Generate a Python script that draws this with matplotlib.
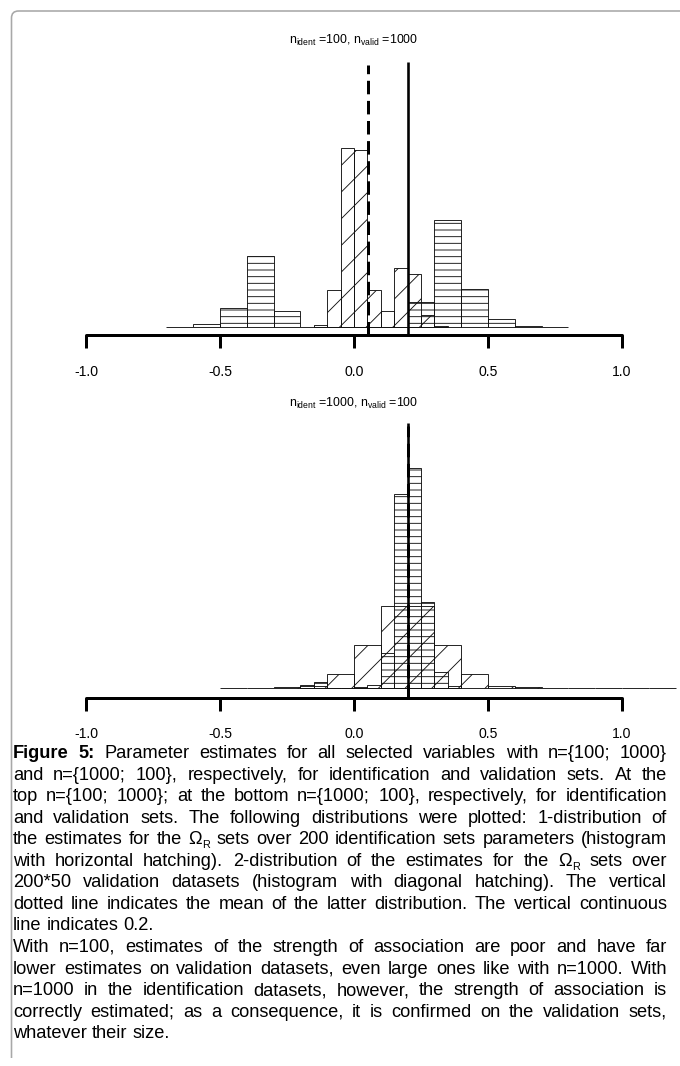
import matplotlib
matplotlib.use("Agg")
import matplotlib.pyplot as plt
import matplotlib.transforms as mtransforms
from matplotlib.patches import FancyBboxPatch, Rectangle
from matplotlib import font_manager

W, H, DPI = 680, 1066, 80

# ---------------- data ----------------
ticks = [-1.0, -0.5, 0.0, 0.5, 1.0]
tick_labels = ["-1.0", "-0.5", "0.0", "0.5", "1.0"]
true_value = 0.2

top_title = r"$\mathregular{n_{ident}}$ =100, $\mathregular{n_{valid}}$ =1000"
top_ident_start = -0.7
top_ident_width = 0.1
top_ident_counts = [0, 3, 19, 71, 16, 0, 0, 0, 0, 25, 107, 38, 8, 1, 0]
top_valid_start = -0.15
top_valid_width = 0.05
top_valid_counts = [2, 37, 179, 177, 37, 16, 59, 53, 12, 1]
top_valid_mean = 0.052

bot_title = r"$\mathregular{n_{ident}}$ =1000, $\mathregular{n_{valid}}$ =100"
bot_ident_start = -0.2
bot_ident_width = 0.05
bot_ident_counts = [3, 6, 0, 0, 1, 3, 35, 194, 220, 86, 16, 2]
bot_valid_start = -0.5
bot_valid_width = 0.1
bot_valid_counts = [0, 0, 1, 2, 14, 43, 82, 82, 43, 14, 2, 1, 0, 0, 0, 0, 0]
bot_valid_mean = 0.2

caption_lines = [
    "Figure 5: Parameter estimates for all selected variables with n={100; 1000}",
    "and n={1000; 100}, respectively, for identification and validation sets. At the",
    "top n={100; 1000}; at the bottom n={1000; 100}, respectively, for identification",
    "and validation sets. The following distributions were plotted: 1-distribution of",
    "the estimates for the Ω_R sets over 200 identification sets parameters (histogram",
    "with horizontal hatching). 2-distribution of the estimates for the Ω_R sets over",
    "200*50 validation datasets (histogram with diagonal hatching). The vertical",
    "dotted line indicates the mean of the latter distribution. The vertical continuous",
    "line indicates 0.2.",
    "With n=100, estimates of the strength of association are poor and have far",
    "lower estimates on validation datasets, even large ones like with n=1000. With",
    "n=1000 in the identification datasets, however, the strength of association is",
    "correctly estimated; as a consequence, it is confirmed on the validation sets,",
    "whatever their size.",
]
caption_last_lines = {8, 13}
caption_bold_words = {(0, 0), (0, 1)}

# ---------------- style ----------------
names = {f.name for f in font_manager.fontManager.ttflist}
narrow = "Liberation Sans Narrow" if "Liberation Sans Narrow" in names else "Liberation Sans"
plt.rcParams["font.family"] = ["Liberation Sans", "DejaVu Sans"]
plt.rcParams["mathtext.fontset"] = "custom"
plt.rcParams["mathtext.rm"] = "Liberation Sans"
plt.rcParams["hatch.linewidth"] = 0.8
PT = 72.0 / DPI  # points per pixel

fig = plt.figure(figsize=(W / DPI, H / DPI), dpi=DPI)
px = mtransforms.Affine2D().scale(1, -1).translate(0, H).scale(1.0 / W, 1.0 / H) + fig.transFigure

# frame (top and left edges with rounded corner)
frame = FancyBboxPatch((11.5, 11), 720, 1200, boxstyle="round,pad=0,rounding_size=7",
                       transform=px, fill=False, edgecolor="#a8a8a8", linewidth=1.6 * PT)
fig.add_artist(frame)
clip = Rectangle((0, 0), W, 1058, transform=px)
frame.set_clip_path(clip)

X0, SCALE = 354.0, 268.0


def panel(base_y, top_y, axis_off, title, title_y, ident, valid, mean, line_top):
    ax = fig.add_axes([0, 1 - base_y / H, 1, (base_y - top_y) / H])
    ax.set_xlim(-X0 / SCALE, (W - X0) / SCALE)
    ax.set_ylim(0, base_y - top_y)
    ax.patch.set_alpha(0)
    s0, w0, c0 = ident
    ax.bar([s0 + i * w0 for i in range(len(c0))], c0, width=w0, align="edge",
           fill=False, hatch="--", edgecolor="#111111", linewidth=0.9 * PT, clip_on=False)
    s1, w1, c1 = valid
    ax.bar([s1 + i * w1 for i in range(len(c1))], c1, width=w1, align="edge",
           fill=False, hatch="/", edgecolor="#111111", linewidth=0.9 * PT, clip_on=False)
    ax.vlines(mean, -axis_off, line_top - 3, colors="black", linewidth=3 * PT,
              linestyles=(0, (4.5, 2.2)), clip_on=False)
    ax.vlines(true_value, -axis_off, line_top, colors="black", linewidth=2.6 * PT, clip_on=False)
    for s in ("left", "right", "top"):
        ax.spines[s].set_visible(False)
    sp = ax.spines["bottom"]
    sp.set_position(("outward", axis_off * PT))
    sp.set_bounds(-1, 1)
    sp.set_linewidth(3 * PT)
    sp.set_capstyle("round")
    ax.set_yticks([])
    ax.set_xticks(ticks)
    ax.set_xticklabels(tick_labels)
    ax.tick_params(axis="x", direction="out", length=13 * PT, width=3 * PT,
                   pad=17 * PT, labelsize=14 * PT)
    fig.text(X0, title_y, title, transform=px, ha="center", va="center", fontsize=12.4 * PT)
    return ax


panel(327, 30, 7.5, top_title, 40, (top_ident_start, top_ident_width, top_ident_counts),
      (top_valid_start, top_valid_width, top_valid_counts), top_valid_mean, 327 - 62)
panel(688, 395, 9.5, bot_title, 403, (bot_ident_start, bot_ident_width, bot_ident_counts),
      (bot_valid_start, bot_valid_width, bot_valid_counts), bot_valid_mean, 688 - 423)

# ---------------- caption (justified) ----------------
renderer = fig.canvas.get_renderer()
CAP = 18.2 * PT
LEFT, RIGHT = 13.0, 667.0
BASE0, LSTEP = 758.0, 21.55


def measure(s, **kw):
    t = fig.text(0, 0, s, transform=px, **kw)
    w = t.get_window_extent(renderer).width
    t.remove()
    return w


space_w = measure("x x", family=narrow, fontsize=CAP) - measure("xx", family=narrow, fontsize=CAP)

for li, line in enumerate(caption_lines):
    words = line.split(" ")
    items = []
    for wi, wd in enumerate(words):
        bold = (li, wi) in caption_bold_words
        kw = dict(family=narrow, fontsize=CAP, fontweight="bold" if bold else "normal")
        if wd == "Ω_R":
            w = measure("Ω", **kw) + measure("R", family=narrow, fontsize=CAP * 0.6)
        else:
            w = measure(wd, **kw)
        items.append((wd, w, kw))
    total = sum(i[1] for i in items)
    if li in caption_last_lines or len(items) < 2:
        gap = space_w
    else:
        gap = (RIGHT - LEFT - total) / (len(items) - 1)
    x = LEFT
    y = BASE0 + li * LSTEP
    for wd, w, kw in items:
        if wd == "Ω_R":
            fig.text(x, y, "Ω", transform=px, ha="left", va="baseline", **kw)
            wo = measure("Ω", **kw)
            fig.text(x + wo + 0.5, y + 4, "R", transform=px, ha="left", va="baseline",
                     family=narrow, fontsize=CAP * 0.6)
        else:
            fig.text(x, y, wd, transform=px, ha="left", va="baseline", **kw)
        x += w + gap

fig.savefig("out.png", dpi=DPI)
